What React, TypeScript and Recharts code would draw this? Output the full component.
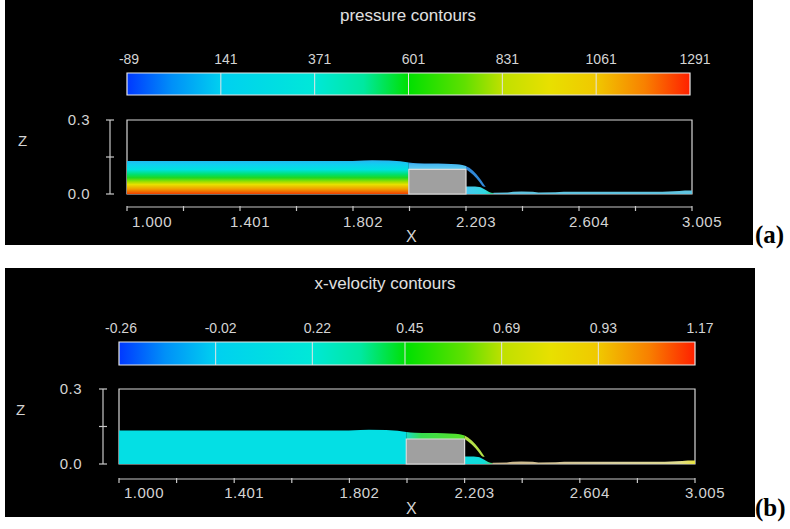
import React from 'react';
import { ComposedChart, Area, XAxis, YAxis, ReferenceArea, ReferenceLine } from 'recharts';

// axis ticks of the flow plots (only the major ones carry a label)
const xTicks = [1.0, 1.2005, 1.401, 1.6015, 1.802, 2.0025, 2.203, 2.4035, 2.604, 2.8045, 3.005];
const xMajor = [1.0, 1.401, 1.802, 2.203, 2.604, 3.005];
const zTicks = [0, 0.15, 0.3];
const zLabelled = [0, 0.3];

// colour bar scales
const pressureTicks = [-89, 141, 371, 601, 831, 1061, 1291];
const velocityTicks = [-0.26, -0.02, 0.22, 0.45, 0.69, 0.93, 1.17];

// weir block
const weirStart = 2.0;
const weirEnd = 2.203;
const weirHeight = 0.1;

// free surface upstream of the weir
const upstreamX = [1.0, 1.3, 1.6, 1.8, 1.84, 1.87, 1.93, 1.97, 2.0];
const upstreamZ = [0.134, 0.134, 0.134, 0.134, 0.136, 0.137, 0.136, 0.133, 0.128];

// water over the weir crest
const crestX = [2.0, 2.03, 2.08, 2.13, 2.17, 2.19, 2.203];
const crestZ = [0.128, 0.125, 0.124, 0.123, 0.121, 0.118, 0.114];

// falling nappe (lower / upper edge)
const nappeX = [2.203, 2.215, 2.228, 2.24, 2.25, 2.258, 2.265, 2.272];
const nappeLow = [0.1, 0.09, 0.078, 0.064, 0.05, 0.038, 0.03, 0.028];
const nappeHigh = [0.114, 0.106, 0.094, 0.08, 0.066, 0.054, 0.042, 0.03];

// pool under the nappe
const poolX = [2.203, 2.22, 2.25, 2.27, 2.285, 2.3];
const poolZ = [0.03, 0.03, 0.028, 0.018, 0.008, 0.004];

// thin film downstream
const filmX = [2.3, 2.35, 2.37, 2.4, 2.44, 2.46, 2.52, 2.55, 2.7, 2.9, 2.96, 2.98, 3.005];
const filmZ = [0.005, 0.006, 0.009, 0.01, 0.009, 0.006, 0.007, 0.009, 0.009, 0.009, 0.012, 0.014, 0.014];

const cmap: [number, string][] = [
  [0, '#0038ff'], [0.08, '#0090f8'], [0.167, '#00d0f0'], [0.333, '#00e8d8'], [0.42, '#00e8a0'],
  [0.5, '#00e000'], [0.6, '#60e000'], [0.667, '#c0e000'], [0.75, '#e8e000'], [0.833, '#f0c800'],
  [0.92, '#f88000'], [1, '#ff2000'],
];

type Row = { x: number; [k: string]: any };
const rowMap = new Map<number, Row>();
const put = (xs: number[], key: string, lows: number[], highs: number[]) => {
  xs.forEach((x, i) => {
    const r = rowMap.get(x) ?? { x };
    r[key] = [lows[i], highs[i]];
    rowMap.set(x, r);
  });
};
put(upstreamX, 'up', upstreamX.map(() => 0), upstreamZ);
put(crestX, 'crest', crestX.map(() => weirHeight), crestZ);
put(nappeX, 'nappe', nappeLow, nappeHigh);
put(poolX, 'pool', poolX.map(() => 0), poolZ);
put(filmX, 'film', filmX.map(() => 0), filmZ);
const rows = [...rowMap.values()].sort((a, b) => a.x - b.x);

const txt = '#d4d4d4';
const font = '"Liberation Sans", Arial, sans-serif';

const grad = (id: string, stops: [number, string][], horizontal = false) => (
  <linearGradient id={id} x1="0" y1="0" x2={horizontal ? '1' : '0'} y2={horizontal ? '0' : '1'}>
    {stops.map(([o, c]) => (
      <stop key={o} offset={o} stopColor={c} />
    ))}
  </linearGradient>
);

function ColorBar({ id, ticks, fmt, left, right, top, height }: any) {
  const data = [{ v: ticks[0], band: 1 }, { v: ticks[ticks.length - 1], band: 1 }];
  return (
    <div style={{ position: 'absolute', left: 0, top: top - 30 }}>
      <ComposedChart width={right + 60} height={height + 32} data={data} margin={{ top: 0, left, right: 60, bottom: 2 }}>
        <defs>{grad(id, cmap, true)}</defs>
        <XAxis
          dataKey="v"
          type="number"
          orientation="top"
          domain={[ticks[0], ticks[ticks.length - 1]]}
          ticks={ticks}
          interval={0}
          height={30}
          axisLine={false}
          tickLine={false}
          tickSize={0}
          tickMargin={0}
          tick={(p: any) => (
            <text x={p.x + (p.index === 0 ? 2 : 5)} y={p.y - 9} textAnchor="middle" fontSize={14} fill={txt} fontFamily={font}>
              {fmt(p.payload.value)}
            </text>
          )}
        />
        <YAxis hide domain={[0, 1]} />
        <Area dataKey="band" type="linear" fill={`url(#${id})`} fillOpacity={1} stroke="none" dot={false} activeDot={false} isAnimationActive={false} />
        {ticks.slice(1, -1).map((t: number) => (
          <ReferenceLine key={t} x={t} stroke="#e4e4e4" strokeWidth={1} />
        ))}
        <ReferenceArea x1={ticks[0]} x2={ticks[ticks.length - 1]} y1={0} y2={1} fill="none" stroke="#e8e8e8" strokeWidth={1.2} />
      </ComposedChart>
    </div>
  );
}

function FlowPlot({ p, defs, fills }: any) {
  const plotH = p.plotBottom - p.plotTop;
  const series = (key: string, type: 'linear' | 'monotone') => (
    <Area
      dataKey={key}
      type={type}
      fill={fills[key]}
      fillOpacity={1}
      stroke="none"
      connectNulls
      dot={false}
      activeDot={false}
      isAnimationActive={false}
    />
  );
  return (
    <div style={{ position: 'absolute', left: 0, top: p.plotTop - 10 }}>
      <ComposedChart
        width={p.plotRight + 50}
        height={plotH + 60}
        data={rows}
        margin={{ top: 10, right: 50, left: p.plotLeft - 60, bottom: 10 }}
      >
        <defs>{defs}</defs>
        <XAxis
          dataKey="x"
          type="number"
          domain={[1.0, 3.005]}
          allowDataOverflow
          ticks={xTicks}
          interval={0}
          height={40}
          tickSize={0}
          tickMargin={0}
          tickLine={false}
          axisLine={{ stroke: '#c8c8c8', strokeWidth: 1.2, transform: `translate(0 ${p.axisOff})` }}
          tick={(t: any) => (
            <g>
              <line x1={t.x} x2={t.x} y1={t.y + p.axisOff - 1} y2={t.y + p.axisOff + 4} stroke="#c8c8c8" strokeWidth={1.2} />
              {xMajor.includes(t.payload.value) && (
                <text
                  x={t.x + (t.index === 0 ? 25 : 10)}
                  y={t.y + p.labelOff}
                  textAnchor="middle"
                  fontSize={15}
                  letterSpacing={0.5}
                  fill={txt}
                  fontFamily={font}
                >
                  {t.payload.value.toFixed(3)}
                </text>
              )}
            </g>
          )}
        />
        <YAxis
          type="number"
          domain={[0, 0.3]}
          ticks={zTicks}
          interval={0}
          width={60}
          tickSize={0}
          tickMargin={0}
          tickLine={false}
          axisLine={{ stroke: '#c8c8c8', strokeWidth: 1.2, transform: `translate(${-p.bracketOff} 0)` }}
          tick={(t: any) => (
            <g>
              <line x1={t.x - p.bracketOff - 4} x2={t.x - p.bracketOff + 4} y1={t.y} y2={t.y} stroke="#c8c8c8" strokeWidth={1.2} />
              {zLabelled.includes(t.payload.value) && (
                <text x={t.x - 37} y={t.y + 5} textAnchor="end" fontSize={15} letterSpacing={0.5} fill={txt} fontFamily={font}>
                  {t.payload.value.toFixed(1)}
                </text>
              )}
            </g>
          )}
        />
        <ReferenceArea x1={1.0} x2={3.005} y1={0} y2={0.3} fill="none" stroke="#d8d8d8" strokeWidth={1.2} />
        {series('up', 'linear')}
        {series('crest', 'monotone')}
        {series('pool', 'monotone')}
        {series('nappe', 'monotone')}
        {series('film', 'linear')}
        <ReferenceArea x1={weirStart} x2={weirEnd} y1={0} y2={weirHeight} fill="#a0a0a0" fillOpacity={1} stroke="#dcdcdc" strokeWidth={1.2} />
      </ComposedChart>
    </div>
  );
}

const panelA = { plotLeft: 127, plotRight: 692, plotTop: 120, plotBottom: 194, axisOff: 13, labelOff: 33, bracketOff: 17 };
const panelB = { plotLeft: 119, plotRight: 695, plotTop: 389, plotBottom: 464, axisOff: 15, labelOff: 34, bracketOff: 16 };

const label = (s: string, left: number, top: number, extra: any = {}) => (
  <div style={{ position: 'absolute', left, top, color: txt, fontFamily: font, fontSize: 15, lineHeight: '16px', ...extra }}>{s}</div>
);

const tag = (s: string, top: number) => (
  <div style={{ position: 'absolute', left: 755, top, fontFamily: '"Liberation Serif", serif', fontWeight: 'bold', fontSize: 25, lineHeight: '28px', color: '#000' }}>{s}</div>
);

export default function App() {
  return (
    <div style={{ position: 'absolute', left: 0, top: 0, width: 790, height: 529, background: '#fff', overflow: 'hidden' }}>
      {/* (a) pressure */}
      <div style={{ position: 'absolute', left: 5, top: 0, width: 748, height: 245, background: '#000' }} />
      <div style={{ position: 'absolute', left: 208, top: 6, width: 400, textAlign: 'center', color: '#e0e0e0', fontFamily: font, fontSize: 17 }}>
        pressure contours
      </div>
      <ColorBar id="cbar-a" ticks={pressureTicks} fmt={(v: number) => String(v)} left={127} right={690} top={73} height={22} />
      <FlowPlot
        p={panelA}
        defs={
          <>
            {grad('a-up', [[0, '#28b4f0'], [0.12, '#10cef0'], [0.28, '#00e2e0'], [0.42, '#00e070'], [0.52, '#20d820'], [0.64, '#a0e000'], [0.72, '#e8e000'], [0.85, '#f0a000'], [1, '#f04000']])}
            {grad('a-crest', [[0, '#2c94e0'], [0.3, '#48b8f0'], [1, '#60ccf0']])}
            {grad('a-pool', [[0, '#48c8f0'], [0.7, '#30d8e0'], [1, '#30d890']], true)}
          </>
        }
        fills={{ up: 'url(#a-up)', crest: 'url(#a-crest)', nappe: '#3088d8', pool: 'url(#a-pool)', film: '#60c4e0' }}
      />
      {label('Z', 18, 133)}
      {label('X', 406, 229, { fontSize: 16 })}
      {tag('(a)', 221)}

      {/* (b) x-velocity */}
      <div style={{ position: 'absolute', left: 5, top: 268, width: 750, height: 249, background: '#000' }} />
      <div style={{ position: 'absolute', left: 185, top: 274, width: 400, textAlign: 'center', color: '#e0e0e0', fontFamily: font, fontSize: 17 }}>
        x-velocity contours
      </div>
      <ColorBar id="cbar-b" ticks={velocityTicks} fmt={(v: number) => v.toFixed(2)} left={119} right={695} top={342} height={23} />
      <FlowPlot
        p={panelB}
        defs={
          <>
            {grad('b-crest', [[0, '#18dcc8'], [0.25, '#38dc50'], [1, '#58e028']], true)}
            {grad('b-pool', [[0, '#10dce0'], [0.7, '#10dcd8'], [1, '#60d870']], true)}
            {grad('b-film', [[0, '#c8b48c'], [0.6, '#d8d0a0'], [0.92, '#e0dc90'], [1, '#e8e440']], true)}
          </>
        }
        fills={{ up: '#04dfe4', crest: 'url(#b-crest)', nappe: '#b4e048', pool: 'url(#b-pool)', film: 'url(#b-film)' }}
      />
      {label('Z', 16, 402)}
      {label('X', 406, 501, { fontSize: 16 })}
      {tag('(b)', 494)}
    </div>
  );
}
